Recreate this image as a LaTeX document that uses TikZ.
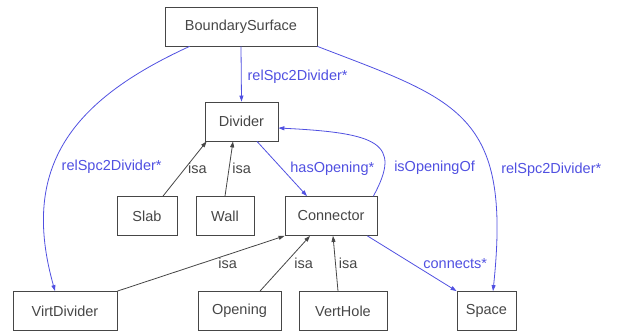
\documentclass[tikz,border=0pt]{standalone}
\usepackage{fontspec}
\setmainfont{Liberation Sans}
\usetikzlibrary{arrows.meta}
\definecolor{relblue}{RGB}{80,80,225}
\definecolor{boxgray}{RGB}{70,70,70}
\tikzset{
    cls/.style={draw=boxgray, line width=0.8pt, text=boxgray, minimum height=39pt,
        inner sep=0pt, font=\fontsize{14.5}{17}\selectfont},
    isaedge/.style={draw=boxgray, line width=0.8pt, -{Triangle[length=6pt,width=4pt]}},
    reledge/.style={draw=relblue, line width=0.8pt, -{Triangle[length=6pt,width=4pt]}},
    isalbl/.style={text=boxgray, anchor=west, inner sep=1pt, font=\fontsize{14.5}{17}\selectfont},
    rellbl/.style={text=relblue, anchor=west, inner sep=1pt, font=\fontsize{14.5}{17}\selectfont}
}
\begin{document}
\begin{tikzpicture}[x=1pt, y=1pt]
        \useasboundingbox (0,0) rectangle (618,334);
        % Draw classes
        \node[cls, minimum width=152pt] (bsurf) at (241,307.5) {BoundarySurface};
        \node[cls, minimum width=73pt] (divider) at (241.5,212.5) {Divider};
        \node[cls, minimum width=60pt] (slab) at (147,118) {Slab};
        \node[cls, minimum width=58pt] (wall) at (225,118) {Wall};
        \node[cls, minimum width=92pt] (connector) at (331,118) {Connector};
        \node[cls, minimum width=104pt] (virtdiv) at (65,23) {VirtDivider};
        \node[cls, minimum width=83pt] (opening) at (239.5,23) {Opening};
        \node[cls, minimum width=88pt] (verthole) at (343,23) {VertHole};
        \node[cls, minimum width=59pt] (space) at (486.5,23) {Space};
        % Draw relations
        \draw[reledge] (bsurf.south) -- (divider.north)
            node[midway, rellbl, xshift=5pt, yshift=-3pt] {relSpc2Divider*};
        \draw[reledge] ([xshift=25pt]bsurf.south west) .. controls +(-118,-54) and +(-35,124) .. ([xshift=-10pt]virtdiv.north)
            node[pos=0.6, rellbl, xshift=7pt] {relSpc2Divider*};
        \draw[reledge] (bsurf.south east) .. controls +(140,-54) and +(19,179) .. ([xshift=6.5pt]space.north)
            node[pos=0.7, rellbl, xshift=10pt] {relSpc2Divider*};
        \draw[reledge] ([xshift=15.5pt]divider.south) -- ([xshift=-24pt]connector.north)
            node[midway, rellbl, xshift=7pt] {hasOpening*};
        \draw[reledge] ([xshift=-4pt]connector.north east) .. controls +(29,53) and +(100,-5) .. ([yshift=-6.5pt]divider.east)
            node[pos=0.25, rellbl, xshift=8pt, yshift=-4pt] {isOpeningOf};
        \draw[reledge] ([xshift=-10pt]connector.south east) -- (space.north west)
            node[midway, rellbl, xshift=10pt] {connects*};
        % Draw isa links
        \draw[isaedge] ([xshift=16pt]slab.north) -- ([xshift=2pt]divider.south west)
            node[midway, isalbl, xshift=2pt] {isa};
        \draw[isaedge] (wall.north) -- ([xshift=-8.5pt]divider.south)
            node[midway, isalbl, xshift=2pt] {isa};
        \draw[isaedge] (virtdiv.north east) -- (connector.south west)
            node[midway, isalbl, xshift=16pt] {isa};
        \draw[isaedge] ([xshift=20.5pt]opening.north) -- ([xshift=-21pt]connector.south)
            node[midway, isalbl, xshift=8pt] {isa};
        \draw[isaedge] ([xshift=-5pt]verthole.north) -- ([xshift=2pt]connector.south)
            node[midway, isalbl, xshift=2pt] {isa};
    \end{tikzpicture}
\end{document}
